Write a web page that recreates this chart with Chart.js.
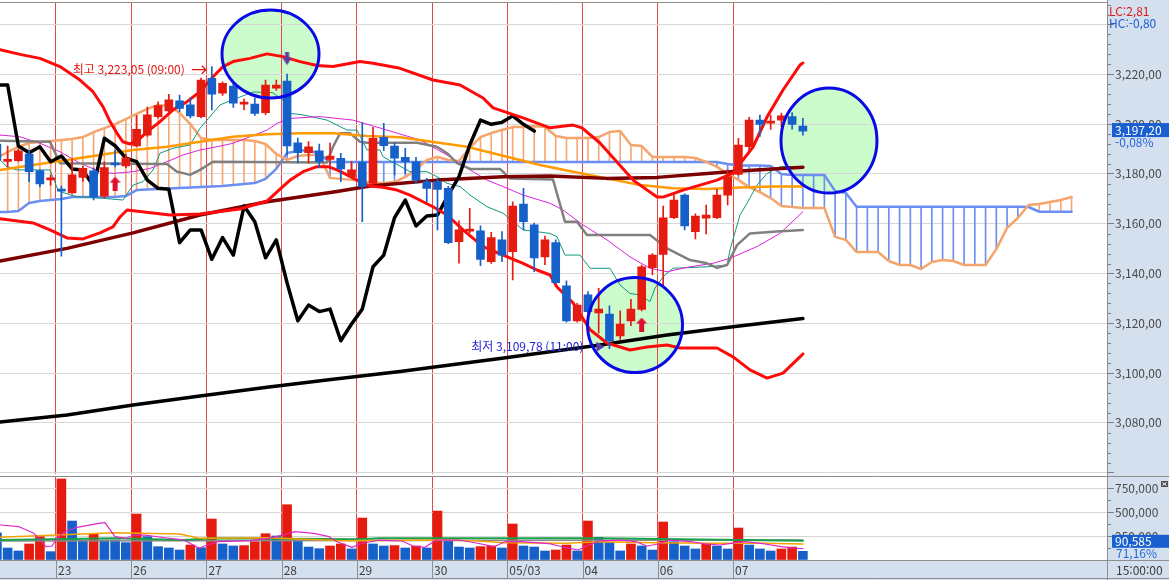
<!DOCTYPE html>
<html lang="ko">
<head>
<meta charset="utf-8">
<title>종합 60분봉</title>
<script src="https://cdn.jsdelivr.net/npm/chart.js@4.4.1/dist/chart.umd.min.js"></script>
<style>
  html, body { margin: 0; padding: 0; background: #fff; }
  #wrap { position: relative; width: 1169px; height: 580px; overflow: hidden; }
  #cvPrice, #cvVol { position: absolute; left: 0; display: block; }
  #cvPrice { top: 0; }
  #cvVol { top: 476px; }
</style>
</head>
<body>
<div id="wrap">
  <canvas id="cvPrice" width="1169" height="476"></canvas>
  <canvas id="cvVol" width="1169" height="104"></canvas>
</div>
<script>
// ---- 데이터 : 60분봉, 인덱스 0 = 23일 09:00 ----
const firstIdx = -6;
const opens = [3192.0, 3185.0, 3185.3, 3188.0, 3181.3, 3177.6,
  3173.5, 3172.4, 3178.6, 3181.2, 3171.1, 3184.0, 3183.2,
  3191.2, 3195.6, 3203.0, 3205.3, 3209.3, 3207.7, 3203.0,
  3218.4, 3212.4, 3215.3, 3208.0, 3208.0, 3204.6, 3214.4,
  3217.3, 3192.5, 3188.5, 3189.3, 3185.8, 3186.3, 3178.9,
  3184.7, 3176.2, 3194.7, 3191.2, 3186.7, 3184.8, 3176.9,
  3176.9, 3174.2, 3152.8, 3157.0, 3157.1, 3144.7, 3153.5,
  3148.8, 3167.9, 3159.5, 3146.7, 3152.4, 3135.0, 3121.0,
  3131.4, 3124.2, 3123.7, 3114.9, 3121.0, 3125.6, 3142.3,
  3147.7, 3162.4, 3171.5, 3156.8, 3162.2, 3162.4, 3171.5,
  3179.8, 3190.9, 3201.6, 3200.4, 3201.6, 3203.0, 3199.2];
const highs = [3194.0, 3191.2, 3190.0, 3189.6, 3181.5, 3179.5,
  3175.1, 3186.0, 3183.0, 3182.4, 3184.8, 3189.6, 3188.0,
  3203.5, 3206.8, 3208.9, 3212.0, 3211.7, 3210.5, 3218.5,
  3223.05, 3217.0, 3217.0, 3210.0, 3210.5, 3217.7, 3217.7,
  3220.1, 3194.4, 3193.0, 3192.0, 3192.4, 3188.3, 3185.0,
  3200.6, 3198.7, 3200.3, 3192.5, 3190.3, 3186.7, 3178.2,
  3178.2, 3175.0, 3161.2, 3166.2, 3159.1, 3156.5, 3156.8,
  3168.8, 3174.2, 3160.2, 3155.0, 3153.5, 3137.1, 3128.0,
  3132.7, 3134.0, 3127.0, 3125.0, 3129.6, 3143.4, 3148.0,
  3167.1, 3172.2, 3172.0, 3164.0, 3167.5, 3173.8, 3181.6,
  3194.3, 3202.7, 3203.6, 3203.6, 3204.4, 3204.6, 3202.3];
const lows = [3184.0, 3182.8, 3185.0, 3176.9, 3174.9, 3175.5,
  3147.0, 3172.3, 3177.0, 3169.5, 3170.5, 3182.8, 3182.5,
  3191.0, 3195.0, 3202.5, 3204.5, 3205.0, 3202.5, 3202.5,
  3205.7, 3211.5, 3206.7, 3205.7, 3203.5, 3203.7, 3213.5,
  3187.6, 3184.4, 3184.3, 3182.5, 3183.5, 3176.9, 3178.5,
  3160.8, 3174.9, 3189.3, 3179.6, 3180.2, 3176.2, 3168.8,
  3157.5, 3152.0, 3144.1, 3156.4, 3143.1, 3144.0, 3144.7,
  3137.4, 3157.5, 3140.7, 3143.5, 3136.0, 3120.5, 3120.5,
  3124.0, 3116.0, 3109.78, 3113.5, 3119.0, 3125.0, 3139.4,
  3134.7, 3162.0, 3157.5, 3153.9, 3155.9, 3162.0, 3167.5,
  3179.5, 3188.3, 3195.0, 3197.9, 3199.0, 3198.0, 3195.6];
const closes = [3185.6, 3185.5, 3189.3, 3180.9, 3176.0, 3177.8,
  3173.1, 3179.6, 3182.2, 3170.8, 3182.5, 3183.6, 3186.5,
  3197.9, 3203.7, 3207.4, 3209.7, 3206.3, 3203.3, 3217.7,
  3212.0, 3216.4, 3208.4, 3208.2, 3204.3, 3215.7, 3215.7,
  3191.2, 3188.5, 3190.9, 3184.9, 3187.2, 3182.0, 3181.6,
  3174.9, 3194.3, 3191.3, 3186.3, 3184.9, 3177.5, 3174.2,
  3173.8, 3152.4, 3157.5, 3157.5, 3145.7, 3154.4, 3147.4,
  3167.1, 3160.8, 3146.3, 3153.5, 3136.3, 3121.0, 3127.3,
  3124.7, 3125.7, 3113.0, 3119.7, 3125.7, 3142.7, 3147.4,
  3162.4, 3169.5, 3159.1, 3163.1, 3163.5, 3171.5, 3178.9,
  3191.6, 3201.6, 3199.9, 3200.7, 3203.3, 3199.9, 3197.2];
const volumes = [284000, 125000, 94000, 167000, 243000, 87000,
  844000, 406000, 208000, 278000, 208000, 208000, 181000,
  479000, 243000, 139000, 125000, 104000, 156000, 128000,
  427000, 167000, 146000, 150000, 191000, 274000, 250000,
  576000, 215000, 135000, 118000, 146000, 167000, 115000,
  437000, 167000, 146000, 150000, 125000, 146000, 125000,
  510000, 208000, 135000, 125000, 139000, 146000, 125000,
  375000, 146000, 135000, 94000, 104000, 156000, 94000,
  406000, 236000, 181000, 94000, 167000, 146000, 104000,
  396000, 191000, 146000, 115000, 167000, 146000, 115000,
  333000, 156000, 115000, 94000, 115000, 135000, 90585];

const dayLabels = ['23', '26', '27', '28', '29', '30', '05/03', '04', '06', '07'];
const dayFirstBar = [0, 7, 14, 21, 28, 35, 42, 49, 56, 63];
const priceTicks = [3060, 3080, 3100, 3120, 3140, 3160, 3180, 3200, 3220, 3240];
const volumeTicks = [0, 250000, 500000, 750000];

// 일목균형표 선행스팬 (인덱스 -6 ~ 94)
const cloudFirstIdx = -6;
const spanA = [3186.4, 3188.8, 3190.8, 3192.4, 3192.8, 3193.2,
  3193.6, 3194.0, 3194.8, 3196.8, 3198.4, 3200.0, 3202.0,
  3204.1, 3206.1, 3207.7, 3207.3, 3204.5, 3200.0, 3194.4,
  3193.6, 3193.6, 3193.6, 3193.6, 3193.2, 3192.0, 3188.0,
  3185.6, 3187.2, 3187.6, 3187.6, 3178.4, 3178.0, 3177.6,
  3177.2, 3176.3, 3176.3, 3176.7, 3178.8, 3181.6, 3185.6,
  3186.8, 3185.6, 3185.2, 3190.4, 3194.8, 3196.4, 3197.6,
  3198.8, 3198.8, 3199.2, 3198.8, 3195.2, 3194.4, 3194.4,
  3194.4, 3194.8, 3196.8, 3197.2, 3191.6, 3191.2, 3186.8,
  3186.8, 3186.8, 3186.8, 3186.4, 3184.8, 3182.8, 3180.0,
  3177.6, 3174.7, 3172.7, 3170.3, 3167.1, 3166.7, 3166.3,
  3166.3, 3166.3, 3154.7, 3153.5, 3148.6, 3148.6, 3148.6,
  3145.0, 3143.4, 3143.4, 3141.8, 3144.6, 3145.4, 3145.0,
  3143.4, 3143.4, 3143.4, 3149.8, 3158.3, 3162.3, 3167.5,
  3167.9, 3168.7, 3169.5, 3170.7];
const spanB = [3164.7, 3164.7, 3165.1, 3168.3, 3169.1, 3169.5,
  3169.9, 3170.7, 3170.7, 3170.7, 3170.7, 3170.7, 3171.1,
  3173.5, 3173.7, 3173.9, 3174.1, 3174.3, 3174.5, 3174.7,
  3174.9, 3175.1, 3175.5, 3175.9, 3176.3, 3178.0, 3182.0,
  3188.4, 3189.2, 3189.6, 3188.0, 3184.8, 3184.8, 3184.8,
  3184.8, 3184.8, 3184.8, 3184.8, 3184.8, 3184.8, 3184.8,
  3184.8, 3184.8, 3184.8, 3184.8, 3184.8, 3184.8, 3184.8,
  3184.8, 3184.8, 3184.8, 3184.8, 3184.8, 3184.8, 3184.8,
  3184.8, 3184.8, 3184.8, 3184.8, 3184.8, 3184.8, 3184.8,
  3184.8, 3184.8, 3184.8, 3184.8, 3184.8, 3184.8, 3184.0,
  3183.4, 3183.4, 3183.4, 3183.2, 3180.0, 3179.6, 3179.6,
  3179.6, 3179.6, 3173.1, 3172.3, 3166.8, 3166.8, 3166.8,
  3166.8, 3166.8, 3166.8, 3166.8, 3166.8, 3166.8, 3166.8,
  3166.8, 3166.8, 3166.8, 3166.8, 3166.8, 3166.8, 3166.7,
  3164.8, 3164.8, 3164.8, 3164.8];
const chikouShift = 25;

// 지표선 [인덱스, 값]
const bbUpper = [[-5.71,3229.9],[-3.85,3228.0],[-1.99,3226.4],[-0.13,3223.1],[1.73,3217.7],[2.94,3213.0],[3.87,3207.0],[4.53,3201.0],[5.18,3196.3],[5.73,3192.9],[6.39,3192.0],[7.32,3194.3],[7.97,3196.9],[9.18,3201.0],[10.39,3205.7],[11.69,3209.0],[12.9,3213.0],[14.11,3219.0],[15.05,3223.1],[15.98,3225.1],[17.55,3226.4],[19.13,3228.2],[20.62,3227.1],[22.21,3225.1],[23.79,3223.5],[25.28,3223.1],[27.79,3225.1],[29.0,3224.4],[31.51,3222.4],[34.58,3217.7],[37.1,3215.7],[39.24,3210.5],[40.17,3206.5],[42.96,3202.5],[45.47,3198.5],[47.61,3199.6],[48.45,3198.5],[50.12,3192.4],[53.2,3177.5],[55.43,3170.7],[55.99,3170.7],[57.85,3173.5],[61.01,3177.5],[62.5,3180.4],[64.36,3190.8],[65.67,3202.9],[67.15,3213.7],[68.73,3223.7],[69,3224.5]];
const bbLower = [[-5.71,3162.0],[-2.64,3160.3],[-1.06,3157.5],[0.52,3154.3],[2.01,3153.9],[3.59,3156.3],[4.8,3158.7],[5.46,3162.7],[6.11,3165.5],[10.11,3163.5],[12.9,3163.9],[16.62,3165.9],[19.13,3169.1],[20.35,3173.9],[21.28,3177.5],[22.49,3180.9],[23.79,3182.9],[24.81,3182.9],[25.65,3181.6],[26.58,3179.6],[27.51,3177.5],[28.72,3175.1],[29.93,3174.6],[31.23,3173.5],[32.44,3171.5],[33.65,3168.8],[34.58,3166.8],[35.89,3163.5],[37.38,3157.5],[39.24,3150.8],[41.1,3147.4],[42.96,3144.1],[44.26,3141.4],[45.47,3139.4],[46.12,3134.6],[47.61,3128.2],[49.2,3117.4],[50.77,3112.1],[52.91,3109.3],[54.49,3110.5],[56.36,3111.3],[57.57,3110.1],[61.01,3110.1],[62.5,3106.5],[64.08,3101.3],[65.67,3098.0],[67.15,3100.0],[68.73,3106.5],[69,3107.7]];
const maLong = [[-5.71,3145.0],[0.52,3150.1],[6.67,3156.3],[12.9,3163.5],[19.13,3168.8],[25.65,3172.9],[28.72,3175.1],[34.95,3177.5],[41.1,3178.9],[45.47,3179.2],[50.77,3178.2],[55.43,3178.6],[60.09,3180.2],[63.15,3181.2],[66.22,3182.0],[69,3182.7]];
const maVeryLong = [[-5.71,3080.4],[0.52,3083.2],[6.67,3087.2],[12.9,3090.8],[19.13,3094.3],[25.28,3097.5],[31.51,3100.6],[40.82,3105.9],[50.12,3111.3],[56.36,3115.3],[62.5,3118.6],[69,3121.9]];
const maMid = [[-5.71,3181.6],[-2.64,3183.6],[0.52,3185.6],[3.59,3187.6],[6.67,3189.6],[9.83,3190.9],[12.9,3192.9],[15.97,3194.9],[19.13,3195.9],[22.21,3196.3],[25.28,3196.3],[28.44,3195.2],[31.51,3194.7],[37.75,3190.9],[40.82,3187.6],[44.54,3183.6],[47.61,3180.9],[50.77,3178.2],[53.84,3175.5],[56.92,3174.2],[60.09,3173.9],[63.15,3174.5],[66.22,3174.9],[69,3174.9]];
const maShort = [[-5.71,3195.6],[-3.85,3194.9],[-1.99,3192.3],[-0.13,3188.9],[1.73,3184.3],[3.59,3180.9],[4.8,3180.2],[6.67,3180.9],[8.25,3182.2],[9.83,3184.9],[11.32,3187.6],[12.9,3189.6],[14.48,3190.9],[15.97,3192.3],[17.55,3194.9],[19.13,3197.6],[20.07,3200.3],[21.28,3202.3],[24.07,3203.0],[27.14,3201.6],[30.3,3197.6],[33.37,3193.6],[35.89,3187.6],[38.03,3181.6],[39.61,3177.5],[41.1,3174.9],[42.96,3171.5],[45.47,3168.2],[46.68,3165.5],[48.54,3159.5],[50.77,3153.5],[52.91,3146.7],[54.77,3142.1],[56.36,3140.7],[58.5,3142.7],[60.64,3144.1],[62.22,3146.1],[64.73,3150.8],[66.87,3156.1],[69,3164.8]];
const tenkan = [[-5.71,3185.6],[-5.06,3182.9],[-4.13,3181.6],[-1.06,3181.6],[-0.31,3173.5],[0.15,3172.5],[1.45,3170.8],[3.87,3170.2],[5.73,3169.5],[6.67,3175.5],[7.6,3176.9],[8.53,3181.6],[9.18,3188.3],[10.39,3190.3],[11.97,3191.6],[12.9,3198.3],[13.55,3201.6],[14.76,3207.7],[15.69,3209.3],[17.83,3212.9],[19.69,3212.6],[20.62,3209.7],[21.28,3204.3],[22.49,3203.7],[24.72,3201.6],[26.58,3197.6],[27.51,3197.6],[28.44,3189.6],[29.65,3189.6],[29.93,3186.9],[32.44,3180.9],[34.02,3180.9],[34.95,3178.9],[35.89,3176.2],[37.1,3174.9],[38.03,3171.5],[39.61,3166.8],[41.1,3164.2],[42.96,3157.5],[45.47,3156.1],[46.12,3154.8],[46.86,3147.4],[48.26,3147.4],[49.2,3142.1],[51.05,3142.1],[51.98,3135.4],[52.91,3132.0],[53.84,3131.4],[54.77,3128.7],[55.24,3134.1],[55.99,3138.7],[56.92,3142.1],[60.09,3142.7],[61.95,3143.4],[62.22,3149.5],[63.15,3163.5],[63.8,3168.2],[64.73,3175.5],[65.67,3180.2],[66.87,3182.9],[69,3182.9]];
const kijun = [[-5.71,3193.3],[-1.06,3192.9],[-0.13,3184.3],[9.83,3184.0],[10.76,3180.9],[11.97,3179.6],[12.9,3181.6],[14.11,3184.9],[24.72,3184.6],[25.28,3190.9],[25.93,3196.3],[26.86,3196.3],[27.79,3192.9],[28.44,3192.5],[33.09,3192.5],[34.95,3190.9],[35.89,3188.3],[36.82,3184.3],[38.03,3182.0],[40.82,3182.0],[41.75,3178.2],[45.75,3177.7],[46.86,3160.8],[47.98,3160.8],[48.91,3155.5],[54.77,3155.5],[56.36,3150.1],[58.5,3145.4],[60.09,3144.1],[61.01,3142.3],[61.95,3143.4],[62.87,3151.4],[64.08,3156.1],[66.22,3156.8],[69,3157.5]];

const volMaShort = [[-5.71,364600],[-3.94,347000],[-2.55,278000],[-1.43,138500],[-0.87,146000],[-0.41,226000],[0.34,295000],[1.45,340600],[3.5,382000],[4.06,388500],[4.99,242700],[6.01,226000],[6.76,260000],[7.78,260000],[9.64,232000],[11.41,208000],[12.81,122000],[13.55,156000],[14.58,190600],[17.46,201000],[19.23,226000],[20.62,260000],[21.74,295000],[23.51,278000],[24.91,242700],[25.65,190600],[27.05,132000],[27.79,167000],[29.56,208000],[31.7,198000],[32.72,146000],[33.84,132000],[34.86,208000],[37.0,208000],[38.49,180000],[40.26,138500],[41.28,190600],[42.68,190600],[44.17,180000],[45.56,167000],[46.96,128000],[48.08,104000],[49.1,156000],[50.12,200000],[52.17,208000],[53.47,190600],[54.5,146000],[55.52,167000],[56.54,208000],[58.59,190600],[59.9,167000],[61.29,156000],[62.31,174000],[63.62,190600],[65.48,167000],[66.97,138500],[68.36,122000],[69,120000]];
const volMaMid = [[-5.71,236000],[-0.41,260000],[4.99,284000],[11.04,271000],[12.81,226000],[19.23,232000],[21.37,222000],[26.3,201000],[34.49,208000],[38.49,201000],[41.28,180000],[46.96,174000],[50.12,190600],[55.15,180000],[60.27,174000],[65.48,174000],[69,167000]];
const volMaLong = [[-5.71,208000],[4.99,226000],[11.41,208000],[14.2,226000],[27.79,215000],[29.56,226000],[50.12,226000],[69,201000]];
const volMaBase = [[-5.71,198000],[31.51,203000],[69,208000]];

const highMark = { idx: 14, price: 3223.05, time: '09:00' };
const lowMark = { idx: 51, price: 3109.78, time: '11:00' };
const buySignals = [[5, 3176.1], [54, 3119.5]];
const sellSignals = [[21, 3226.1]];
const highlightCenters = [[19.46, 3228.1], [53.38, 3119.3], [71.43, 3193.4]];
const lastPrice = 3197.20;
const lastChange = '-0,08%';
const lcText = 'LC:2,81';
const hcText = 'HC:-0,80';
const lastVolume = 90585;
const volRatio = '71,16%';
const closeTime = '15:00:00';

// ---- 화면 설정 ----
const UP = '#e61b10', DOWN = '#1660c9';
const PANEL_BG = '#d5e0ee';
const GRID = '#d6d6d6', DAY_LINE = '#e24848', FRAME = '#8e8e8e';
const FONT = "12px 'Noto Sans CJK KR', 'Noto Sans', sans-serif";
const AXIS_W = 62;
const X_MIN = -5.711, X_MAX = 97.30;
const HL_RADII = [[48.5, 44], [47.5, 47.5], [48, 52.5]];

Chart.defaults.font.family = "'Noto Sans CJK KR', 'Noto Sans', sans-serif";
Chart.defaults.font.size = 12;
Chart.defaults.color = '#4a4a4a';

function krNum(v, dec) {
  const s = v.toFixed(dec).split('.');
  const int = s[0].replace(/\B(?=(\d{3})+(?!\d))/g, ',');
  return dec ? int + ',' + s[1] : int;
}
const pts = arr => arr.map(([x, y]) => ({ x, y }));
const xOf = k => firstIdx + k;

function lineDs(data, color, width, order) {
  return {
    type: 'line', data: pts(data), borderColor: color, borderWidth: width,
    pointRadius: 0, tension: 0, order, borderJoinStyle: 'round', borderCapStyle: 'round'
  };
}

function xAxis() {
  return {
    type: 'linear', min: X_MIN, max: X_MAX, offset: false,
    grid: { color: DAY_LINE, lineWidth: 1, drawTicks: false, offset: false },
    border: { display: false },
    ticks: { display: false },
    afterBuildTicks: s => { s.ticks = dayFirstBar.map(b => ({ value: b - 0.5 })); },
    afterFit: s => { s.height = 0; s.paddingLeft = 0; s.paddingRight = 0; }
  };
}

function yAxis(min, max, tickValues, label) {
  return {
    position: 'right', min, max,
    grid: { color: GRID, tickLength: 7, tickColor: '#7d7d7d' },
    border: { display: false },
    ticks: { padding: 1, color: '#4a4a4a', callback: label },
    afterBuildTicks: s => { s.ticks = tickValues.map(v => ({ value: v })); },
    afterFit: s => { s.width = AXIS_W; s.paddingTop = 0; s.paddingBottom = 0; }
  };
}

function minorTicks(chart, step, majorStep) {
  const { ctx, chartArea: a, scales: { y } } = chart;
  ctx.save();
  ctx.strokeStyle = '#7d7d7d';
  ctx.lineWidth = 1;
  ctx.beginPath();
  for (let v = Math.ceil(y.min / step) * step; v <= y.max; v += step) {
    const r = v / majorStep;
    if (Math.abs(r - Math.round(r)) < 1e-6) continue;
    const py = Math.round(y.getPixelForValue(v)) + 0.5;
    ctx.moveTo(a.right, py);
    ctx.lineTo(a.right + 4, py);
  }
  ctx.stroke();
  ctx.restore();
}

// 화살표 신호 그림
function arrowImage(dir, color) {
  const c = document.createElement('canvas');
  c.width = 11; c.height = 14;
  const g = c.getContext('2d');
  g.fillStyle = color;
  g.beginPath();
  if (dir === 'up') {
    g.moveTo(5.5, 0); g.lineTo(11, 6); g.lineTo(8, 6); g.lineTo(8, 14);
    g.lineTo(3, 14); g.lineTo(3, 6); g.lineTo(0, 6);
  } else {
    g.moveTo(3.5, 0); g.lineTo(7.5, 0); g.lineTo(7.5, 6); g.lineTo(10, 6);
    g.lineTo(5.5, 13); g.lineTo(1, 6); g.lineTo(3.5, 6);
  }
  g.closePath();
  g.fill();
  return c;
}

// ---- 데이터 가공 ----
const candleColors = opens.map((o, k) => closes[k] >= o ? UP : DOWN);
const bodies = opens.map((o, k) => ({ x: xOf(k), y: [o, closes[k]] }));
const wicks = highs.map((h, k) => ({ x: xOf(k), y: [lows[k], h] }));
const chikou = closes.slice(chikouShift).map((c, k) => [xOf(k), c]);
const cloudHatch = spanA.map((a, k) => ({ x: cloudFirstIdx + k, y: [a, spanB[k]] }));
const hatchColors = spanA.map((a, k) => a >= spanB[k] ? '#f6a874' : '#6d90f0');
const spanALine = spanA.map((a, k) => [cloudFirstIdx + k, a]);
const spanBLine = spanB.map((b, k) => [cloudFirstIdx + k, b]);
const volColors = volumes.map((v, k) => k > 0 && v > volumes[k - 1] ? UP : DOWN);

// ---- 가격 차트 장식 ----
const priceDecor = {
  id: 'priceDecor',
  beforeDraw(chart) {
    const { ctx, chartArea: a, width, height, scales: { x, y } } = chart;
    ctx.save();
    ctx.fillStyle = '#ffffff';
    ctx.fillRect(0, 0, width, height);
    ctx.fillStyle = PANEL_BG;
    ctx.fillRect(a.right, 0, width - a.right, height);
    // 강조 원 (배경)
    ctx.fillStyle = '#ccfccc';
    highlightCenters.forEach(([i, p], n) => {
      ctx.beginPath();
      ctx.ellipse(x.getPixelForValue(i), y.getPixelForValue(p), HL_RADII[n][0], HL_RADII[n][1], 0, 0, Math.PI * 2);
      ctx.fill();
    });
    ctx.restore();
  },
  afterDatasetsDraw(chart) {
    const { ctx, scales: { x, y } } = chart;
    ctx.save();
    ctx.strokeStyle = '#0a0ae6';
    ctx.lineWidth = 3;
    highlightCenters.forEach(([i, p], n) => {
      ctx.beginPath();
      ctx.ellipse(x.getPixelForValue(i), y.getPixelForValue(p), HL_RADII[n][0], HL_RADII[n][1], 0, 0, Math.PI * 2);
      ctx.stroke();
    });

    ctx.font = FONT;
    ctx.textBaseline = 'middle';
    ctx.textAlign = 'right';
    // 최고
    const hx = x.getPixelForValue(highMark.idx), hy = y.getPixelForValue(highMark.price);
    ctx.fillStyle = '#e8140e';
    ctx.fillText('최고 ' + krNum(highMark.price, 2) + ' (' + highMark.time + ')', hx - 27, hy + 3);
    ctx.strokeStyle = '#e8140e';
    ctx.lineWidth = 1.3;
    ctx.beginPath();
    ctx.moveTo(hx - 20, hy + 3); ctx.lineTo(hx - 6, hy + 3);
    ctx.moveTo(hx - 10, hy - 1); ctx.lineTo(hx - 6, hy + 3); ctx.lineTo(hx - 10, hy + 7);
    ctx.stroke();
    // 최저
    const lx = x.getPixelForValue(lowMark.idx), ly = y.getPixelForValue(lowMark.price);
    ctx.fillStyle = '#2424d6';
    ctx.fillText('최저 ' + krNum(lowMark.price, 2) + ' (' + lowMark.time + ')', lx - 26, ly - 2);
    ctx.fillStyle = '#5a3aa8';
    ctx.beginPath();
    ctx.moveTo(lx - 13, ly - 7); ctx.lineTo(lx - 5, ly - 2); ctx.lineTo(lx - 13, ly + 3);
    ctx.closePath();
    ctx.fill();
    ctx.restore();
  },
  afterDraw(chart) {
    const { ctx, chartArea: a, width, height, scales: { y } } = chart;
    minorTicks(chart, 4, 20);
    ctx.save();
    ctx.strokeStyle = FRAME;
    ctx.lineWidth = 1;
    ctx.beginPath();
    ctx.moveTo(0, a.top - 0.5); ctx.lineTo(a.right, a.top - 0.5);
    ctx.moveTo(a.right + 0.5, 0); ctx.lineTo(a.right + 0.5, height);
    ctx.stroke();

    ctx.font = FONT;
    ctx.textAlign = 'left';
    ctx.textBaseline = 'middle';
    ctx.fillStyle = '#e01818';
    ctx.fillText(lcText, a.right + 2, 11);
    ctx.fillStyle = '#2060d0';
    ctx.fillText(hcText, a.right + 2, 23);

    const py = y.getPixelForValue(lastPrice);
    ctx.fillStyle = '#1a5fcf';
    ctx.fillRect(a.right + 5, py - 8, width - a.right - 5, 14);
    ctx.fillStyle = '#ffffff';
    ctx.fillText(krNum(lastPrice, 2), a.right + 8, py - 1);
    ctx.fillStyle = '#2468d8';
    ctx.fillText(lastChange, a.right + 8, py + 11.5);
    ctx.restore();
  }
};

// ---- 거래량 차트 장식 ----
const volDecor = {
  id: 'volDecor',
  beforeDraw(chart) {
    const { ctx, chartArea: a, width, height } = chart;
    ctx.save();
    ctx.fillStyle = '#ffffff';
    ctx.fillRect(0, 0, width, height);
    ctx.fillStyle = PANEL_BG;
    ctx.fillRect(a.right, 0, width - a.right, height);
    ctx.fillRect(0, a.bottom, width, height - a.bottom);
    ctx.restore();
  },
  afterDraw(chart) {
    const { ctx, chartArea: a, width, height, scales: { x, y } } = chart;
    minorTicks(chart, 125000, 250000);
    ctx.save();
    ctx.strokeStyle = FRAME;
    ctx.lineWidth = 1;
    ctx.beginPath();
    ctx.moveTo(0, 0.5); ctx.lineTo(width, 0.5);
    ctx.moveTo(0, a.bottom + 0.5); ctx.lineTo(width, a.bottom + 0.5);
    ctx.moveTo(0, height - 1.5); ctx.lineTo(width, height - 1.5);
    ctx.moveTo(a.right + 0.5, 0); ctx.lineTo(a.right + 0.5, height);
    dayFirstBar.forEach(b => {
      const px = Math.round(x.getPixelForValue(b - 0.5)) + 0.5;
      ctx.moveTo(px, a.bottom); ctx.lineTo(px, height - 1.5);
    });
    ctx.stroke();

    ctx.font = FONT;
    ctx.textAlign = 'left';
    ctx.textBaseline = 'middle';
    ctx.fillStyle = '#3c3c3c';
    dayFirstBar.forEach((b, n) => {
      ctx.fillText(dayLabels[n], x.getPixelForValue(b - 0.5) + 2, a.bottom + 10);
    });
    ctx.fillText(closeTime, a.right + 9, a.bottom + 10);

    const vy = y.getPixelForValue(lastVolume);
    ctx.fillStyle = '#1a5fcf';
    ctx.fillRect(a.right + 5, vy - 16.5, width - a.right - 5, 13);
    ctx.fillStyle = '#ffffff';
    ctx.fillText(krNum(lastVolume, 0), a.right + 8, vy - 10);
    ctx.fillStyle = '#2468d8';
    ctx.fillText(volRatio, a.right + 9, vy + 2);

    // 닫기 아이콘
    ctx.fillStyle = '#505050';
    ctx.fillRect(width - 8, 5, 7, 6);
    ctx.strokeStyle = '#ffffff';
    ctx.beginPath();
    ctx.moveTo(width - 6.5, 6.5); ctx.lineTo(width - 2.5, 9.5);
    ctx.moveTo(width - 2.5, 6.5); ctx.lineTo(width - 6.5, 9.5);
    ctx.stroke();
    ctx.restore();
  }
};

// ---- 가격 차트 ----
new Chart(document.getElementById('cvPrice'), {
  type: 'bar',
  data: {
    datasets: [
      { type: 'line', data: pts(buySignals), showLine: false, pointStyle: arrowImage('up', '#e0102c'), order: 0 },
      { type: 'line', data: pts(sellSignals), showLine: false, pointStyle: arrowImage('down', '#5b3fa3'), order: 0 },
      { type: 'bar', data: bodies, backgroundColor: candleColors, barThickness: 8, grouped: false, minBarLength: 2, order: 1 },
      { type: 'bar', data: wicks, backgroundColor: candleColors, barThickness: 1, grouped: false, order: 2 },
      lineDs(bbUpper, '#ff0a0a', 3, 3),
      lineDs(bbLower, '#ff0a0a', 3, 3),
      lineDs(chikou, '#000000', 3.5, 4),
      lineDs(maVeryLong, '#000000', 3.5, 4),
      lineDs(maLong, '#7d0000', 3.5, 5),
      lineDs(maMid, '#ff9a00', 2.5, 6),
      lineDs(kijun, '#808080', 2.5, 7),
      lineDs(maShort, '#dd22dd', 1, 8),
      lineDs(tenkan, '#13977f', 1, 8),
      lineDs(spanALine, '#f5a56c', 2.5, 9),
      lineDs(spanBLine, '#6b8ef2', 2.5, 9),
      { type: 'bar', data: cloudHatch, backgroundColor: hatchColors, barThickness: 1, grouped: false, order: 10 }
    ]
  },
  options: {
    responsive: false,
    animation: false,
    events: [],
    layout: { autoPadding: false, padding: { top: 3, bottom: 2.5, left: 0, right: 0 } },
    plugins: { legend: { display: false }, tooltip: { enabled: false } },
    scales: {
      x: xAxis(),
      y: yAxis(3059.68, 3248.63, priceTicks, v => (v >= 3080 && v <= 3220) ? krNum(v, 2) : '')
    }
  },
  plugins: [priceDecor]
});

// ---- 거래량 차트 ----
new Chart(document.getElementById('cvVol'), {
  type: 'bar',
  data: {
    datasets: [
      lineDs(volMaShort, '#e026c8', 1.2, 1),
      lineDs(volMaMid, '#f2a300', 1.5, 2),
      lineDs(volMaLong, '#17a24a', 2, 3),
      lineDs(volMaBase, '#8a8a8a', 1.5, 4),
      { type: 'bar', data: volumes.map((v, k) => ({ x: xOf(k), y: v })), backgroundColor: volColors, barThickness: 9, grouped: false, order: 5 }
    ]
  },
  options: {
    responsive: false,
    animation: false,
    events: [],
    layout: { autoPadding: false, padding: { top: 0, bottom: 20, left: 0, right: 0 } },
    plugins: { legend: { display: false }, tooltip: { enabled: false } },
    scales: {
      x: xAxis(),
      y: yAxis(0, 875000, volumeTicks, v => v > 0 ? krNum(v, 0) : '')
    }
  },
  plugins: [volDecor]
});
</script>
</body>
</html>
